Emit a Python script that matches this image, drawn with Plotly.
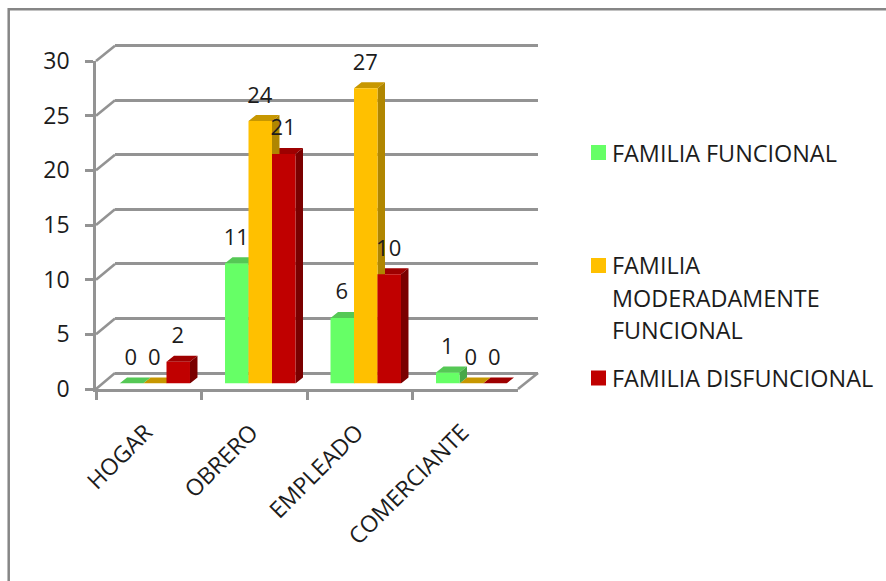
import plotly.graph_objects as go

CATEGORIES = ["HOGAR", "OBRERO", "EMPLEADO", "COMERCIANTE"]
SERIES_NAMES = ["FAMILIA FUNCIONAL", "FAMILIA MODERADAMENTE FUNCIONAL", "FAMILIA DISFUNCIONAL"]
FUNCIONAL = [0, 11, 6, 1]
MODERADA = [0, 24, 27, 0]
DISFUNCIONAL = [2, 21, 10, 0]
VALUES = [FUNCIONAL, MODERADA, DISFUNCIONAL]
FRONT = ["#66FF66", "#FFC000", "#C00000"]
TOP = ["#55C855", "#C79700", "#9E0000"]
SIDE = ["#47A847", "#B08600", "#7A0000"]
Y_TICKS = [0, 5, 10, 15, 20, 25, 30]

W, H = 886, 581
FONT = "Open Sans"
TEXT = "#1c1c1c"
GRID = "#939393"
GW = 2.6


def xdom(a, b):
    return [a / W, b / W]


def ydom(bottom, top):
    return [1 - bottom / H, 1 - top / H]


fig = go.Figure()

# invisible carrier traces for wall and front frame
fig.add_trace(go.Scatter(x=[0], y=[0], mode="none", xaxis="x", yaxis="y", showlegend=False, hoverinfo="skip"))
fig.add_trace(go.Scatter(x=CATEGORIES, y=[0] * 4, mode="none", xaxis="x2", yaxis="y2", showlegend=False, hoverinfo="skip"))

GAP = 0.332
BW = (1 - GAP) / 3
DX = 7.5 / 105.5
DY = 6 / 10.93

# depth faces, painted right to left
for s in [2, 1, 0]:
    sx, sy, tx, ty = [], [], [], []
    for i, v in enumerate(VALUES[s]):
        xl = i + (s - 1.5) * BW
        xr = xl + BW
        tx += [xl, xr, xr + DX, xl + DX, xl, None]
        ty += [v, v, v + DY, v + DY, v, None]
        if v > 0:
            sx += [xr, xr + DX, xr + DX, xr, xr, None]
            sy += [0, DY, v + DY, v, 0, None]
    fig.add_trace(go.Scatter(x=tx, y=ty, mode="lines", fill="toself", fillcolor=TOP[s], line=dict(width=0),
                             xaxis="x3", yaxis="y3", showlegend=False, hoverinfo="skip"))
    if sx:
        fig.add_trace(go.Scatter(x=sx, y=sy, mode="lines", fill="toself", fillcolor=SIDE[s], line=dict(width=0),
                                 xaxis="x3", yaxis="y3", showlegend=False, hoverinfo="skip"))

# front faces
for s in range(3):
    fig.add_trace(go.Bar(x=list(range(4)), y=VALUES[s], name=SERIES_NAMES[s], marker=dict(color=FRONT[s], line=dict(width=0)),
                         xaxis="x4", yaxis="y4", showlegend=False))

# data labels
for s in range(3):
    fig.add_trace(go.Scatter(x=[i + (s - 1) * BW - 0.005 for i in range(4)], y=[v + 2.2 for v in VALUES[s]],
                             text=[str(v) for v in VALUES[s]], mode="text", textposition="middle center",
                             textfont=dict(family=FONT, size=22, color=TEXT), cliponaxis=False,
                             xaxis="x4", yaxis="y4", showlegend=False, hoverinfo="skip"))

shapes = []
# outer frame
shapes.append(dict(type="rect", xref="paper", yref="paper", x0=8.7 / W, x1=(W + 10) / W, y0=-0.05, y1=1 - 9.3 / H,
                   line=dict(color="#868686", width=2.5), layer="below"))
# floor and wall diagonals
F_X0, F_X1, B_X0, B_X1 = 96, 518, 115, 538
F_Y0, F_Y30, B_Y0, B_Y30 = 389, 61, 373, 45.7
line = dict(color=GRID, width=GW)
for t in Y_TICKS:
    fy = F_Y0 + (F_Y30 - F_Y0) * t / 30
    by = B_Y0 + (B_Y30 - B_Y0) * t / 30
    shapes.append(dict(type="line", xref="paper", yref="paper", x0=F_X0 / W, x1=B_X0 / W, y0=1 - fy / H, y1=1 - by / H,
                       line=line, layer="below"))
shapes.append(dict(type="line", xref="paper", yref="paper", x0=F_X1 / W, x1=B_X1 / W, y0=1 - F_Y0 / H, y1=1 - B_Y0 / H,
                   line=line, layer="below"))
# legend swatches
SWATCH_Y = [152.5, 265.5, 378]
for c, y in zip(FRONT, SWATCH_Y):
    shapes.append(dict(type="rect", xref="paper", yref="paper", x0=591 / W, x1=606 / W, y0=1 - (y + 7.5) / H, y1=1 - (y - 7.5) / H,
                       fillcolor=c, line=dict(width=0)))

LEGEND_LINES = [("FAMILIA FUNCIONAL", 152.5), ("FAMILIA", 265), ("MODERADAMENTE", 297.5), ("FUNCIONAL", 330), ("FAMILIA DISFUNCIONAL", 378)]
annotations = [dict(text=t, xref="paper", yref="paper", x=610 / W, y=1 - y / H, xanchor="left", yanchor="middle", showarrow=False,
                    font=dict(family=FONT, size=23.4, color=TEXT)) for t, y in LEGEND_LINES]

hidden = dict(visible=False, fixedrange=True)
WALL_PAD = 0.5
WALL_UNIT = (B_Y0 - B_Y30) / 30
fig.update_layout(
    template="none",
    width=W, height=H, margin=dict(l=0, r=0, t=0, b=0, pad=0), autosize=False,
    paper_bgcolor="white", plot_bgcolor="rgba(0,0,0,0)", showlegend=False,
    barmode="group", bargap=GAP, bargroupgap=0,
    shapes=shapes, annotations=annotations,
    font=dict(family=FONT, color=TEXT),
    xaxis=dict(domain=xdom(B_X0, B_X1), range=[0, 4], visible=False),
    yaxis=dict(domain=ydom(B_Y0, B_Y30 - WALL_PAD * WALL_UNIT), range=[0, 30 + WALL_PAD], tickvals=Y_TICKS, showticklabels=False,
               showgrid=True, gridcolor=GRID, gridwidth=GW, zeroline=True, zerolinecolor=GRID, zerolinewidth=GW, showline=False, ticks=""),
    xaxis2=dict(domain=xdom(F_X0, F_X1), anchor="y2", type="category", categoryarray=CATEGORIES, categoryorder="array",
                range=[-0.5, 3.5], showgrid=False, zeroline=False, showline=True, linecolor=GRID, linewidth=GW, ticks="outside",
                tickson="boundaries", ticklen=8, tickwidth=GW, tickcolor=GRID, tickangle=-45,
                ticklabelstandoff=18, ticklabelshift=-3,
                tickfont=dict(family=FONT, size=23, color=TEXT)),
    yaxis2=dict(domain=ydom(F_Y0, F_Y30), anchor="x2", range=[0, 30], tickvals=Y_TICKS, showgrid=False, zeroline=False,
                showline=True, linecolor=GRID, linewidth=GW, ticks="outside", ticklen=8, tickwidth=GW, tickcolor=GRID,
                ticklabelstandoff=11,
                tickfont=dict(family=FONT, size=23, color=TEXT)),
    xaxis3=dict(domain=xdom(102, 524), anchor="y3", range=[-0.5, 3.5], **hidden),
    yaxis3=dict(domain=ydom(383.5, 55.5), anchor="x3", range=[0, 30], **hidden),
    xaxis4=dict(domain=xdom(102, 524), anchor="y4", range=[-0.5, 3.5], **hidden),
    yaxis4=dict(domain=ydom(383.5, 55.5), anchor="x4", range=[0, 30], **hidden),
)
fig.write_html("out.html", config={"displayModeBar": False}, post_script="document.body.style.margin='0';")
